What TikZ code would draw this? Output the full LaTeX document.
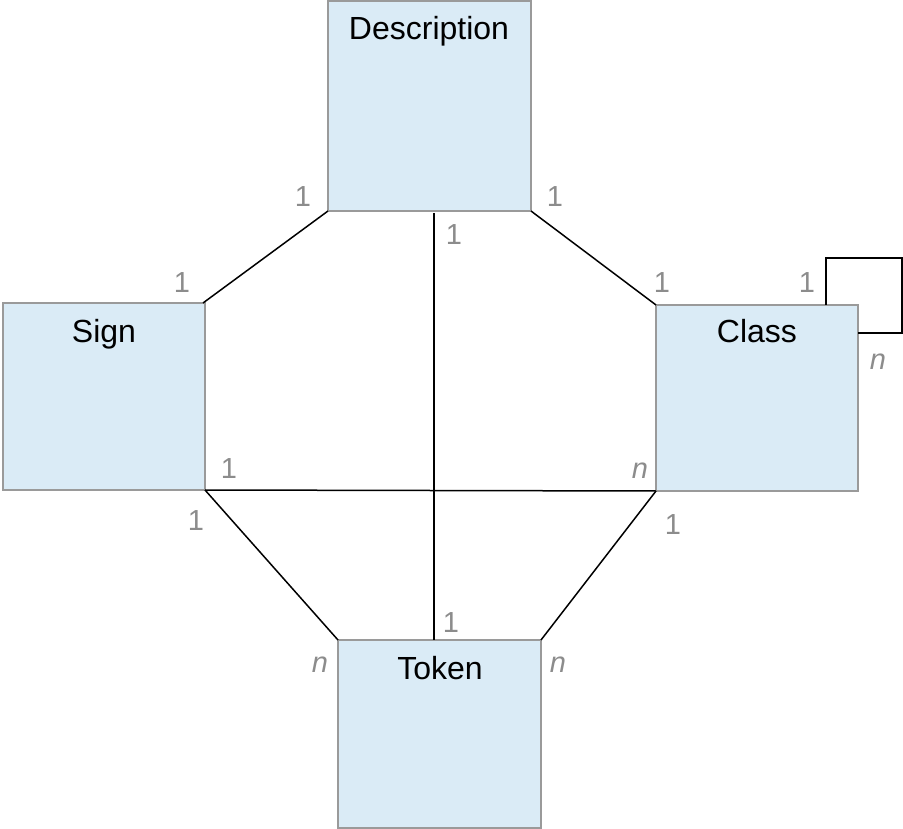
\documentclass[tikz,border=0pt]{standalone}
\usepackage{fontspec}
\setmainfont{Liberation Sans}
\definecolor{boxfill}{HTML}{DAEBF6}
\definecolor{boxline}{HTML}{9A9A9A}
\definecolor{lblgray}{HTML}{8C8C8C}
\begin{document}
\begin{tikzpicture}[x=1pt,y=-1pt,
  entity/.style={draw=boxline,fill=boxfill,line width=1.5pt,inner sep=0pt},
  title/.style={anchor=base,font=\fontsize{32}{36}\selectfont,text=black,inner sep=0pt},
  card/.style={anchor=base,font=\fontsize{29}{32}\selectfont,text=lblgray,inner sep=0pt},
  rel/.style={line width=1.5pt,black}]
\useasboundingbox (0,0) rectangle (903,829);
% boxes
\path[entity] (328,1) rectangle (531,211);
\path[entity] (3,303) rectangle (205,490);
\path[entity] (656,305) rectangle (858,491);
\path[entity] (338,640) rectangle (541,828);
\coordinate (dbl) at (328,211);
\coordinate (dbr) at (531,211);
\coordinate (dbc) at (434,213);
\coordinate (str) at (203,303);
\coordinate (sbr) at (205,490);
\coordinate (ctl) at (656,305);
\coordinate (cbl) at (656,491);
\coordinate (ctop) at (826,305);
\coordinate (crt) at (858,333);
\coordinate (ttl) at (338,640);
\coordinate (ttr) at (541,640);
\coordinate (ttc) at (434,640);
\node[title] (tdesc) at (429,40) {Description};
\node[title] (tsign) at (104,342) {Sign};
\node[title] (tclass) at (757,342) {Class};
\node[title] (ttok) at (440,679) {Token};
% connectors
\draw[rel] (dbl) -- (str);
\draw[rel] (dbr) -- (ctl);
\draw[rel] (dbc) -- (ttc);
\draw[rel] (sbr) -- (cbl);
\draw[rel] (sbr) -- (ttl);
\draw[rel] (cbl) -- (ttr);
\draw[rel] (ctop) -- ++(0,-47) -- ++(76,0) |- (crt);
% cardinalities
\node[card] (c1) at (303,207) {1};
\node[card] (c2) at (555,207) {1};
\node[card] (c3) at (454,245) {1};
\node[card] (c4) at (182,293) {1};
\node[card] (c5) at (662,293) {1};
\node[card] (c6) at (807,293) {1};
\node[card] (c7) at (878,370) {\itshape n};
\node[card] (c8) at (229,478) {1};
\node[card] (c9) at (640,478) {\itshape n};
\node[card] (c10) at (196,530) {1};
\node[card] (c11) at (673,534) {1};
\node[card] (c12) at (451,632) {1};
\node[card] (c13) at (320,672) {\itshape n};
\node[card] (c14) at (558,672) {\itshape n};
\end{tikzpicture}
\end{document}
